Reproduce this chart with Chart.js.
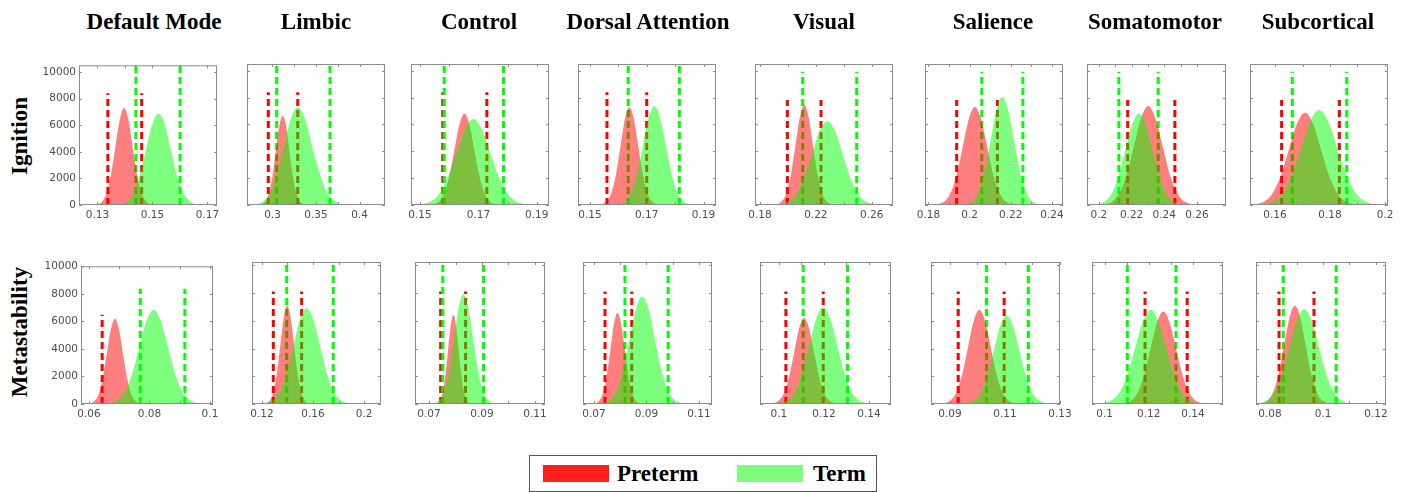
<!DOCTYPE html>
<html>
<head>
<meta charset="utf-8">
<script src="https://cdn.jsdelivr.net/npm/chart.js@4.4.1/dist/chart.umd.min.js"></script>
<style>
  html, body { margin: 0; padding: 0; background: #fff; }
  body { width: 1413px; height: 492px; position: relative; overflow: hidden; font-family: 'Liberation Serif', 'Times New Roman', serif; }
  .panel { position: absolute; }
  .title { position: absolute; top: 10px; font-weight: bold; font-size: 23px; line-height: 23px; white-space: nowrap; transform: translateX(-50%); }
  .rowlab { position: absolute; font-weight: bold; font-size: 23px; line-height: 23px; white-space: nowrap; transform: translate(-50%, -50%) rotate(-90deg); }
  .legend { position: absolute; left: 529px; top: 455px; width: 346px; height: 35px; border: 1px solid #555; }
  .legend .sw { position: absolute; top: 9px; width: 66px; height: 17px; }
  .legend .lab { position: absolute; top: 6px; font-weight: bold; font-size: 23px; line-height: 23px; }
</style>
</head>
<body>
<div class="legend">
  <div class="sw" style="left:13px;background:#ff1f1f"></div>
  <div class="lab" style="left:87px">Preterm</div>
  <div class="sw" style="left:207px;background:#7dff7d"></div>
  <div class="lab" style="left:283px">Term</div>
</div>
<script>
const NETWORKS = ['Default Mode', 'Limbic', 'Control', 'Dorsal Attention', 'Visual', 'Salience', 'Somatomotor', 'Subcortical'];
const MEASURES = ['Ignition', 'Metastability'];
const Y_TICKS = [0, 2000, 4000, 6000, 8000, 10000];

// ---- Ignition (top row) ----
const ignXLim = [[0.1233, 0.1735], [0.2707, 0.4293], [0.1469, 0.1942], [0.1458, 0.1944], [0.1764, 0.2753], [0.1783, 0.2454], [0.1927, 0.2778], [0.1509, 0.2011]];
const ignXLabels = [[0.13, 0.15, 0.17], [0.3, 0.35, 0.4], [0.15, 0.17, 0.19], [0.15, 0.17, 0.19], [0.18, 0.22, 0.26], [0.18, 0.2, 0.22, 0.24], [0.2, 0.22, 0.24, 0.26], [0.16, 0.18, 0.2]];
const ignYMax = [10500, 10500, 10500, 10500, 10500, 10500, 10500, 10500];

const ignPreBins = [[0.1304, 0.1490], [0.2883, 0.3351], [0.1550, 0.1754], [0.1546, 0.1732], [0.1931, 0.2303], [0.1852, 0.2200], [0.2044, 0.2560], [0.1535, 0.1883]];
const ignPreCounts = [
  [70, 310, 1000, 2400, 4450, 6400, 7300, 6450, 4400, 2350, 980, 330, 90],
  [70, 290, 900, 2150, 4050, 5850, 6650, 5900, 4000, 2170, 890, 300, 70],
  [75, 300, 920, 2220, 4140, 6000, 6820, 6030, 4120, 2200, 930, 300, 70],
  [80, 320, 980, 2360, 4410, 6410, 7270, 6420, 4400, 2370, 970, 320, 80],
  [80, 330, 1000, 2420, 4520, 6560, 7440, 6560, 4510, 2420, 1010, 330, 80],
  [80, 320, 990, 2380, 4440, 6460, 7320, 6450, 4450, 2370, 990, 320, 80],
  [80, 325, 990, 2400, 4470, 6500, 7370, 6500, 4480, 2390, 1000, 320, 80],
  [75, 300, 930, 2230, 4170, 6060, 6870, 6060, 4170, 2230, 930, 300, 75]
];
const ignTermBins = [[0.1387, 0.1657], [0.2810, 0.3770], [0.1509, 0.1857], [0.1607, 0.1847], [0.1952, 0.2612], [0.1991, 0.2327], [0.1999, 0.2491], [0.1566, 0.1956]];
const ignTermCounts = [
  [70, 290, 920, 2250, 4200, 6050, 6870, 6100, 4150, 2200, 940, 310, 80],
  [60, 260, 900, 2250, 4350, 6400, 7270, 6500, 4550, 2600, 1150, 420, 120],
  [70, 280, 860, 2080, 3890, 5650, 6400, 5640, 3880, 2090, 870, 280, 70],
  [80, 320, 1000, 2400, 4470, 6500, 7370, 6500, 4480, 2390, 990, 330, 80],
  [70, 275, 845, 2030, 3790, 5510, 6250, 5520, 3800, 2040, 840, 270, 70],
  [90, 355, 1090, 2620, 4890, 7110, 8060, 7100, 4900, 2610, 1080, 350, 90],
  [75, 300, 920, 2220, 4140, 6010, 6820, 6020, 4130, 2210, 920, 300, 75],
  [80, 310, 950, 2300, 4290, 6240, 7070, 6230, 4300, 2290, 960, 310, 80]
];
const ignPreCI = [[0.1338, 0.1461], [0.2952, 0.3290], [0.1578, 0.1729], [0.1560, 0.1700], [0.1996, 0.2237], [0.1937, 0.2135], [0.2176, 0.2465], [0.1624, 0.1834]];
const ignTermCI = [[0.1440, 0.1601], [0.3048, 0.3661], [0.1583, 0.1786], [0.1635, 0.1815], [0.2106, 0.2493], [0.2059, 0.2259], [0.2122, 0.2363], [0.1663, 0.1861]];
const ignPreCITop = [8400, 8400, 8400, 8400, 7820, 7820, 7820, 7820];
const ignTermCITop = [10500, 10500, 10500, 10500, 9930, 9930, 9930, 9930];

// ---- Metastability (bottom row) ----
const metXLim = [[0.0574, 0.1010], [0.1122, 0.2133], [0.0647, 0.1138], [0.0658, 0.1150], [0.0916, 0.1498], [0.0831, 0.1300], [0.0943, 0.1536], [0.0747, 0.1238]];
const metXLabels = [[0.06, 0.08, 0.1], [0.12, 0.16, 0.2], [0.07, 0.09, 0.11], [0.07, 0.09, 0.11], [0.1, 0.12, 0.14], [0.09, 0.11, 0.13], [0.1, 0.12, 0.14], [0.08, 0.1, 0.12]];
const metYMax = [10000, 10250, 10250, 10250, 10250, 10250, 10250, 10250];

const metPreBins = [[0.0608, 0.0764], [0.1239, 0.1557], [0.0732, 0.0852], [0.0709, 0.0871], [0.0980, 0.1244], [0.0884, 0.1130], [0.1095, 0.1437], [0.0774, 0.1014]];
const metPreCounts = [
  [70, 270, 840, 2010, 3760, 5470, 6200, 5470, 3760, 2020, 830, 270, 70],
  [80, 310, 960, 2300, 4300, 6250, 7090, 6250, 4310, 2300, 950, 310, 80],
  [70, 280, 870, 2090, 3900, 5670, 6430, 5670, 3900, 2090, 870, 280, 70],
  [70, 290, 890, 2130, 3980, 5790, 6560, 5790, 3980, 2130, 880, 290, 70],
  [70, 270, 840, 2010, 3760, 5470, 6200, 5470, 3770, 2010, 840, 270, 70],
  [75, 300, 920, 2210, 4130, 6000, 6800, 6000, 4130, 2210, 920, 300, 75],
  [75, 295, 900, 2170, 4060, 5890, 6680, 5890, 4050, 2170, 900, 295, 75],
  [80, 310, 960, 2300, 4300, 6250, 7090, 6260, 4300, 2300, 960, 310, 80]
];
const metTermBins = [[0.0673, 0.0955], [0.1239, 0.1863], [0.0725, 0.0935], [0.0740, 0.1028], [0.1011, 0.1383], [0.0968, 0.1244], [0.1002, 0.1416], [0.0764, 0.1094]];
const metTermCounts = [
  [75, 300, 920, 2230, 4160, 6040, 6850, 6040, 4160, 2220, 930, 300, 75],
  [75, 305, 930, 2250, 4200, 6100, 6920, 6100, 4200, 2250, 930, 305, 75],
  [80, 330, 1050, 2550, 4800, 7000, 7930, 7050, 4900, 2700, 1150, 400, 110],
  [85, 340, 1050, 2520, 4710, 6840, 7760, 6850, 4700, 2520, 1050, 340, 85],
  [75, 310, 945, 2270, 4240, 6170, 6990, 6160, 4250, 2270, 940, 310, 75],
  [70, 280, 860, 2080, 3880, 5640, 6390, 5640, 3880, 2080, 860, 280, 70],
  [75, 300, 920, 2210, 4130, 6000, 6800, 6000, 4130, 2210, 920, 300, 75],
  [75, 300, 925, 2230, 4160, 6040, 6850, 6040, 4160, 2220, 925, 300, 75]
];
const metPreCI = [[0.0644], [0.1289, 0.1511], [0.0744, 0.0838], [0.0742, 0.0844], [0.1031, 0.1197], [0.0930, 0.1097], [0.1183, 0.1374], [0.0834, 0.0966]];
const metTermCI = [[0.0770, 0.0917], [0.1394, 0.1759], [0.0752, 0.0906], [0.0818, 0.0983], [0.1108, 0.1305], [0.1033, 0.1185], [0.1103, 0.1323], [0.0850, 0.1050]];
const metPreCITop = [6480, 8120, 8120, 8120, 8120, 8120, 8120, 8120];
const metTermCITop = [8370, 10250, 10250, 10250, 10250, 10250, 10250, 10250];

// plot-box pixel layout of the two rows
const ROW_LAYOUT = [
  { tops: [64, 64, 64, 64, 64, 64, 64, 64], bottom: 205,
    lr: [[79, 217], [247, 385], [411, 549], [578, 716], [755, 893], [925, 1063], [1087, 1226], [1250, 1388]] },
  { tops: [265, 262, 262, 262, 262, 262, 262, 262], bottom: 404,
    lr: [[81, 213], [252, 381], [415, 545], [583, 712], [760, 891], [931, 1060], [1092, 1223], [1256, 1386]] }
];
const TITLE_X = [154, 316, 479, 648, 824, 993, 1155, 1318];
const ROWLAB_Y = [136, 332];

const ROWS = [
  { xLim: ignXLim, xLabels: ignXLabels, yMax: ignYMax, preBins: ignPreBins, preCounts: ignPreCounts,
    termBins: ignTermBins, termCounts: ignTermCounts, preCI: ignPreCI, termCI: ignTermCI, preTop: ignPreCITop, termTop: ignTermCITop },
  { xLim: metXLim, xLabels: metXLabels, yMax: metYMax, preBins: metPreBins, preCounts: metPreCounts,
    termBins: metTermBins, termCounts: metTermCounts, preCI: metPreCI, termCI: metTermCI, preTop: metPreCITop, termTop: metTermCITop }
];

const RED_FILL = 'rgba(255,0,0,0.5)';
const GREEN_FILL = 'rgba(0,255,0,0.5)';
const AXIS = '#8c8c8c';
const TICK_FONT = { family: "'DejaVu Sans', sans-serif", size: 10.5 };
const PAD_L = 42, PAD_T = 8, PAD_R = 16, PAD_B = 22;

// MATLAB-style box with inward tick marks on all four sides
const axesBox = {
  id: 'axesBox',
  afterDatasetsDraw(chart) {
    const { ctx, chartArea: a, scales: { x, y } } = chart;
    ctx.save();
    ctx.strokeStyle = AXIS;
    ctx.lineWidth = 1;
    ctx.strokeRect(a.left + 0.5, a.top + 0.5, a.right - a.left - 1, a.bottom - a.top - 1);
    ctx.beginPath();
    x.ticks.forEach(t => {
      const px = Math.round(x.getPixelForValue(t.value)) + 0.5;
      ctx.moveTo(px, a.bottom); ctx.lineTo(px, a.bottom - 3);
      ctx.moveTo(px, a.top); ctx.lineTo(px, a.top + 3);
    });
    y.ticks.forEach(t => {
      const py = Math.round(y.getPixelForValue(t.value)) + 0.5;
      ctx.moveTo(a.left, py); ctx.lineTo(a.left + 3, py);
      ctx.moveTo(a.right, py); ctx.lineTo(a.right - 3, py);
    });
    ctx.stroke();
    ctx.restore();
  }
};

function histPoints(bins, counts) {
  const [lo, hi] = bins;
  const step = (hi - lo) / (counts.length - 1);
  return counts.map((c, i) => ({ x: lo + i * step, y: c }));
}

function ciLines(values, top, color, order) {
  return values.map(v => ({
    data: [{ x: v, y: 0 }, { x: v, y: top }],
    borderColor: color, borderWidth: 3, borderDash: [7, 4],
    pointRadius: 0, fill: false, order
  }));
}

function xTickValues(labels, min, max) {
  const vals = [];
  labels.forEach((v, i) => {
    vals.push(v);
    if (i < labels.length - 1) vals.push((v + labels[i + 1]) / 2);
  });
  return vals.filter(v => v >= min - 1e-9 && v <= max + 1e-9);
}

ROWS.forEach((row, r) => {
  const lay = ROW_LAYOUT[r];
  NETWORKS.forEach((name, c) => {
    const [left, right] = lay.lr[c];
    const top = lay.tops[c];
    const w = right - left + PAD_L + PAD_R;
    const h = lay.bottom - top + PAD_T + PAD_B;

    const box = document.createElement('div');
    box.className = 'panel';
    box.style.left = (left - PAD_L) + 'px';
    box.style.top = (top - PAD_T) + 'px';
    const canvas = document.createElement('canvas');
    canvas.width = w; canvas.height = h;
    canvas.style.width = w + 'px'; canvas.style.height = h + 'px';
    box.appendChild(canvas);
    document.body.appendChild(box);

    const [xmin, xmax] = row.xLim[c];
    const labels = row.xLabels[c];

    new Chart(canvas, {
      type: 'line',
      data: {
        datasets: [
          { data: histPoints(row.termBins[c], row.termCounts[c]), fill: 'origin', backgroundColor: GREEN_FILL,
            borderColor: 'rgba(0,0,0,0)', borderWidth: 0, pointRadius: 0, cubicInterpolationMode: 'monotone', order: 0 },
          { data: histPoints(row.preBins[c], row.preCounts[c]), fill: 'origin', backgroundColor: RED_FILL,
            borderColor: 'rgba(0,0,0,0)', borderWidth: 0, pointRadius: 0, cubicInterpolationMode: 'monotone', order: 1 },
          ...ciLines(row.termCI[c], row.termTop[c], '#00ff00', 2),
          ...ciLines(row.preCI[c], row.preTop[c], '#ff0000', 3)
        ]
      },
      options: {
        responsive: false,
        animation: false,
        events: [],
        layout: { padding: { left: 0, top: PAD_T, right: PAD_R, bottom: 0 } },
        plugins: { legend: { display: false }, tooltip: { enabled: false } },
        scales: {
          x: {
            type: 'linear', min: xmin, max: xmax,
            grid: { display: false, drawTicks: false }, border: { display: false },
            afterBuildTicks: s => { s.ticks = xTickValues(labels, xmin, xmax).map(v => ({ value: v })); },
            afterFit: s => { s.height = PAD_B; },
            ticks: {
              autoSkip: false, maxRotation: 0, minRotation: 0, padding: 4, color: '#4d4d4d', font: TICK_FONT,
              callback: v => labels.some(l => Math.abs(l - v) < 1e-9) ? String(+v.toFixed(3)) : ''
            }
          },
          y: {
            min: 0, max: row.yMax[c],
            grid: { display: false, drawTicks: false }, border: { display: false },
            afterBuildTicks: s => { s.ticks = Y_TICKS.map(v => ({ value: v })); },
            afterFit: s => { s.width = PAD_L; },
            ticks: { display: c === 0, padding: 3, color: '#4d4d4d', font: TICK_FONT, callback: v => String(v) }
          }
        }
      },
      plugins: [axesBox]
    });
  });
});

NETWORKS.forEach((name, c) => {
  const t = document.createElement('div');
  t.className = 'title';
  t.style.left = TITLE_X[c] + 'px';
  t.textContent = name;
  document.body.appendChild(t);
});
MEASURES.forEach((name, r) => {
  const t = document.createElement('div');
  t.className = 'rowlab';
  t.style.left = '19px';
  t.style.top = ROWLAB_Y[r] + 'px';
  t.textContent = name;
  document.body.appendChild(t);
});
</script>
</body>
</html>
